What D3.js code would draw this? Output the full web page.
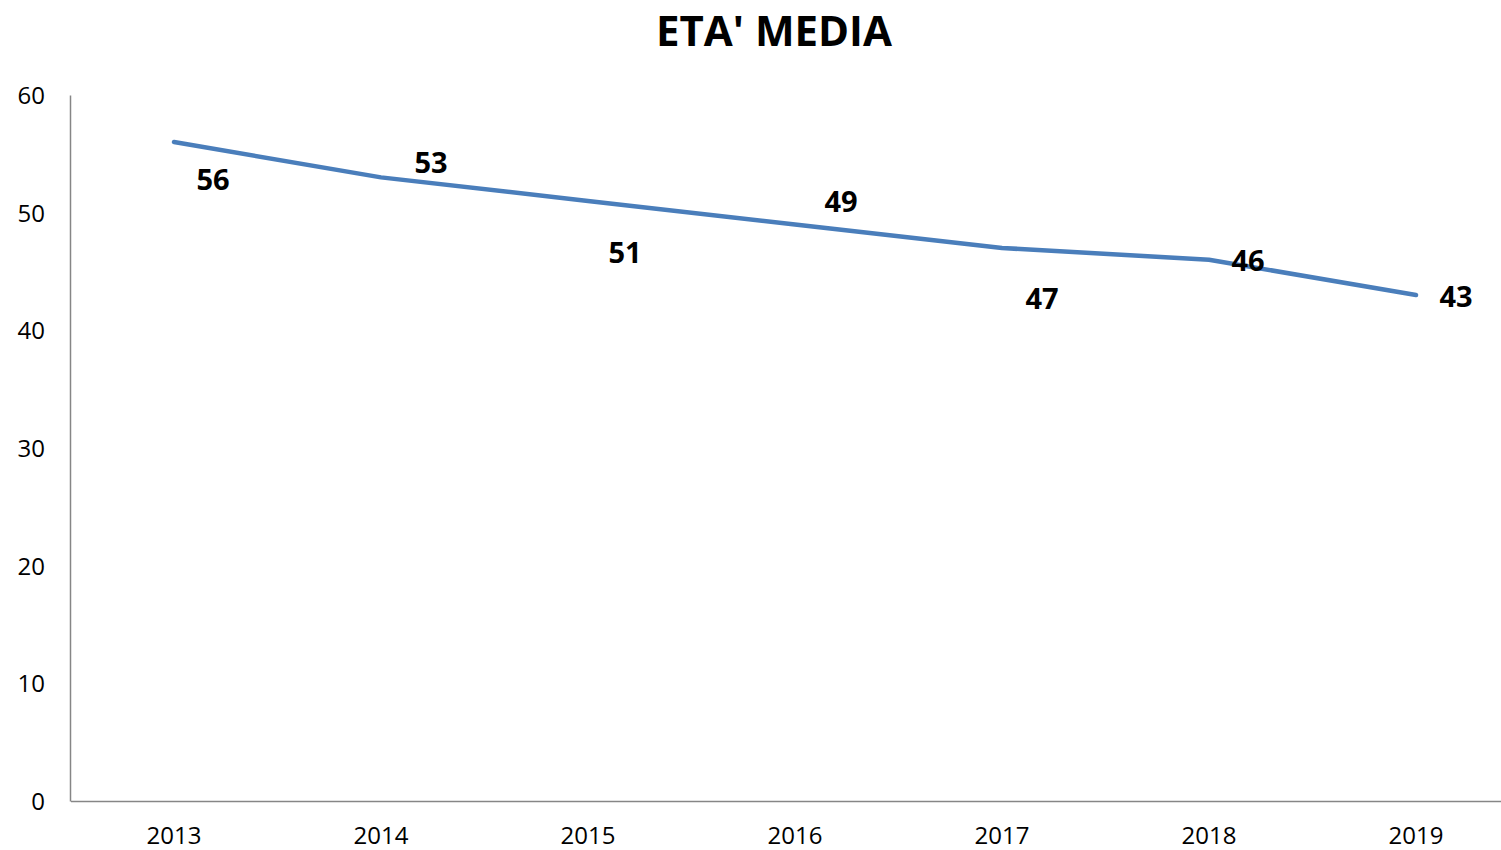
<!DOCTYPE html>
<html><head><meta charset="utf-8">
<script src="https://cdn.jsdelivr.net/npm/d3@7"></script>
<style>body{margin:0;background:#fff}svg{display:block}text{font-family:"Open Sans",sans-serif}</style>
</head><body>
<script>
const years = ["2013","2014","2015","2016","2017","2018","2019"];
const values = [56,53,51,49,47,46,43];
const yTicks = [0,10,20,30,40,50,60];
const title = "ETA' MEDIA";

// layout: label offsets relative to each point (px)
const labelDx = [39,50,37,46,40,39,40];
const labelDy = [38,-15,52,-23,51,1,2];

const W=1501,H=850;
const svg=d3.select("body").append("svg").attr("width",W).attr("height",H);
const x=d3.scaleBand().domain(years).range([70.5,1519.5]);
const y=d3.scaleLinear().domain([0,60]).range([801,95]);
const cx=d=>x(d)+x.bandwidth()/2;

svg.append("text").attr("x",774).attr("y",46).attr("text-anchor","middle")
  .attr("font-size",42).attr("font-weight","bold").attr("fill","#000").text(title);

// axes
const ya=svg.append("g").attr("transform","translate(70,0)")
  .call(d3.axisLeft(y).tickValues(yTicks).tickSize(0).tickPadding(25));
ya.select(".domain").attr("stroke","#868686").attr("stroke-width",1.5);
ya.selectAll("text").attr("font-size",24).attr("fill","#000").attr("dy","0.35em");

const xa=svg.append("g").attr("transform","translate(0,801)")
  .call(d3.axisBottom(x).tickSize(0));
xa.select(".domain").attr("stroke","#868686").attr("stroke-width",1.5);
xa.selectAll("text").attr("font-size",24).attr("fill","#000").attr("y",35).attr("dy","0.35em");

// line
const line=d3.line().x((d,i)=>cx(years[i])).y(d=>y(d));
svg.append("path").datum(values).attr("d",line).attr("fill","none")
  .attr("stroke","#4a7ebb").attr("stroke-width",4.5).attr("stroke-linecap","round").attr("stroke-linejoin","round");

svg.selectAll(".lbl").data(values).enter().append("text")
  .attr("x",(d,i)=>cx(years[i])+labelDx[i]).attr("y",(d,i)=>y(d)+labelDy[i])
  .attr("dy","0.35em").attr("text-anchor","middle")
  .attr("font-size",29).attr("font-weight","bold").attr("fill","#000").text(d=>d);
</script>
</body></html>
